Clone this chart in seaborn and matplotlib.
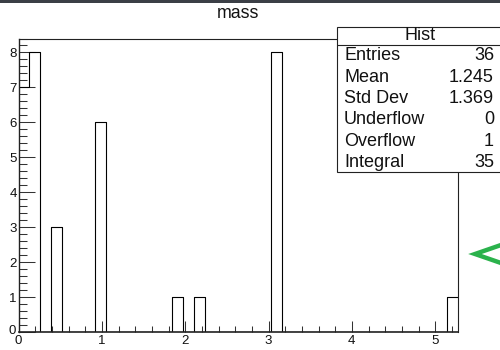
import numpy as np
import pandas as pd
import seaborn as sns
import matplotlib
matplotlib.use("Agg")
import matplotlib.pyplot as plt
import matplotlib.transforms as mtransforms
from matplotlib.patches import Rectangle
from matplotlib.lines import Line2D
from matplotlib.ticker import MultipleLocator

# Histogram "mass": 40 bins between 0 and the upper edge below
n_bins = 40
x_low, x_high = 0.0, 5.27
filled_bins = [0, 1, 3, 7, 14, 16, 23, 39]
bin_counts = [7, 8, 3, 6, 1, 1, 8, 1]

x_ticks = [0, 1, 2, 3, 4, 5]
y_ticks = [0, 1, 2, 3, 4, 5, 6, 7, 8]

stat_names = ["Entries", "Mean", "Std Dev", "Underflow", "Overflow", "Integral"]
stat_values = ["36", "1.245", "1.369", "0", "1", "35"]

edges = np.linspace(x_low, x_high, n_bins + 1)
centers = 0.5 * (edges[:-1] + edges[1:])
df = pd.DataFrame({"mass": centers[filled_bins], "count": bin_counts})

sns.set_style("ticks")
plt.rcParams["font.family"] = ["Liberation Sans", "DejaVu Sans"]

W, H = 500, 350
fig = plt.figure(figsize=(W / 100, H / 100), dpi=100)
fig.patch.set_facecolor("white")


def fx(px):
    return px / W


def fy(py):
    return 1 - py / H


ax_l, ax_r, ax_t, ax_b = 18.5, 457.7, 38.5, 332.3
ax = fig.add_axes([fx(ax_l), fy(ax_b), fx(ax_r - ax_l), (ax_b - ax_t) / H])

sns.histplot(data=df, x="mass", weights="count", bins=n_bins,
             binrange=(x_low, x_high), element="step",
             fill=False, color="black", linewidth=0.8, ax=ax)

ax.set_xlim(x_low, x_high)
ax.set_ylim(0, 8.4)
ax.set_xlabel("")
ax.set_ylabel("")
ax.set_xticks(x_ticks)
ax.set_yticks(y_ticks)
ax.set_xticklabels([str(t) for t in x_ticks])
ax.set_yticklabels([str(t) for t in y_ticks])
ax.xaxis.set_minor_locator(MultipleLocator(0.2))
ax.yaxis.set_minor_locator(MultipleLocator(0.2))
ax.tick_params(axis="x", which="major", direction="in", length=7.7, width=0.75,
               labelsize=9.5, pad=2, top=False, color="#333333",
               labelcolor="#111111")
ax.tick_params(axis="x", which="minor", direction="in", length=4, width=0.75,
               top=False, color="#333333")
ax.tick_params(axis="y", which="major", direction="in", length=11.5, width=0.75,
               labelsize=9.5, pad=1.2, right=False, color="#333333",
               labelcolor="#111111")
ax.tick_params(axis="y", which="minor", direction="in", length=5.8, width=0.75,
               right=False, color="#333333")
for s in ax.spines.values():
    s.set_visible(True)
    s.set_linewidth(0.8)
    s.set_color("#222222")
ax.spines["bottom"].set_linewidth(1.2)
ax.spines["left"].set_linewidth(1.0)

# Lift the y-axis "0" a little so it clears the x-axis "0"
lift = mtransforms.ScaledTranslation(-1 / 100, 3 / 100, fig.dpi_scale_trans)
y0_label = ax.get_yticklabels()[0]
y0_label.set_transform(y0_label.get_transform() + lift)

# Title
fig.text(fx(238), fy(14), "mass", ha="center", va="center", fontsize=12.8,
         color="#111111")

# Statistics box
bx_l, bx_r, bx_t, bx_b, hdr_b = 337, 503, 27, 172, 45
fig.add_artist(Rectangle((fx(bx_l), fy(bx_b)), fx(bx_r - bx_l), (bx_b - bx_t) / H,
                         transform=fig.transFigure, facecolor="white",
                         edgecolor="#222222", linewidth=0.8, zorder=5))
fig.add_artist(Line2D([fx(bx_l), fx(bx_r)], [fy(hdr_b), fy(hdr_b)],
                      transform=fig.transFigure, color="#222222", linewidth=0.8,
                      zorder=6))
fig.text(fx(420), fy(36), "Hist", ha="center", va="center", fontsize=13,
         color="#111111", zorder=7)
row0, row_step = 56, 21.3
for i, (name, val) in enumerate(zip(stat_names, stat_values)):
    yc = fy(row0 + i * row_step)
    fig.text(fx(344), yc, name, ha="left", va="center", fontsize=13,
             color="#111111", zorder=7)
    fig.text(fx(494), yc, val, ha="right", va="center", fontsize=13,
             color="#111111", zorder=7)

# Dark strip along the top edge
fig.add_artist(Rectangle((0, fy(2.7)), 1, 2.7 / H, transform=fig.transFigure,
                         facecolor="#3b3f46", edgecolor="none", zorder=8))

# Green chevron at the right edge
fig.add_artist(Line2D([fx(501), fx(475), fx(501)], [fy(245), fy(254), fy(263)],
                      transform=fig.transFigure, color="#2bb24c", linewidth=3.2,
                      solid_joinstyle="miter", zorder=8))

fig.savefig("out.png", dpi=100, facecolor="white")
